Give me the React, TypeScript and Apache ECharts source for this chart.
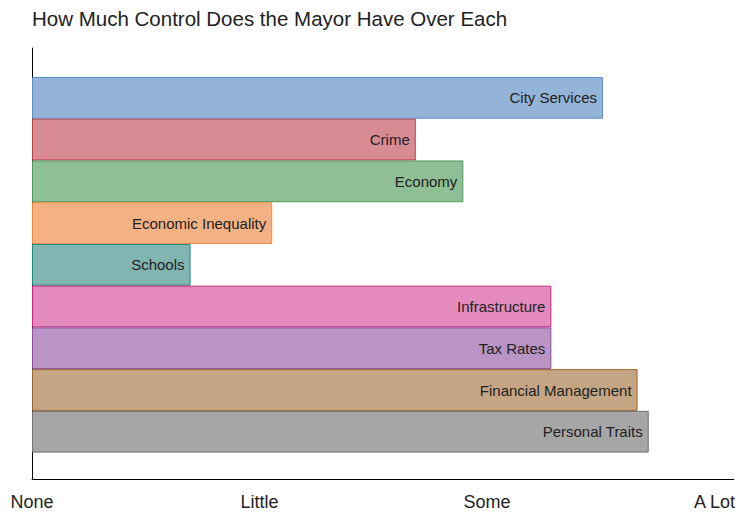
import React, { useEffect, useRef } from "react";
import * as echarts from "echarts";

const categories = [
  "City Services",
  "Crime",
  "Economy",
  "Economic Inequality",
  "Schools",
  "Infrastructure",
  "Tax Rates",
  "Financial Management",
  "Personal Traits",
];
const controlValues = [2.51, 1.687, 1.896, 1.056, 0.697, 2.283, 2.283, 2.662, 2.711];
const tickLabels = ["None", "Little", "Some", "A Lot"];

const fills = ["#93b4d7", "#d98b94", "#8fbf95", "#f4b183", "#80b5b1", "#e48bbe", "#b994c4", "#c4a684", "#a6a6a6"];
const borders = ["#5b8fc7", "#b8404f", "#4f9a5c", "#ec8a42", "#1f8a80", "#c7237f", "#8b4f9e", "#a0632a", "#6f6f6f"];

const FONT = "Arial, 'Liberation Sans', sans-serif";
const XMAX = 3.085;

export default function App() {
  const ref = useRef<HTMLDivElement>(null);
  useEffect(() => {
    if (!ref.current) return;
    const chart = echarts.init(ref.current, undefined, { renderer: "svg" });
    chart.setOption({
      animation: false,
      backgroundColor: "#ffffff",
      title: {
        text: "How Much Control Does the Mayor Have Over Each",
        left: 32,
        top: 8,
        padding: 0,
        textStyle: { fontSize: 20.5, fontWeight: "normal", color: "#222", fontFamily: FONT },
      },
      grid: [
        { left: 32, right: 752 - 733.8, top: 48, bottom: 516 - 479 },
        { left: 32, right: 752 - 733.8, top: 77, bottom: 516 - 452.6 },
      ],
      xAxis: [
        {
          type: "value",
          gridIndex: 0,
          min: 0,
          max: XMAX,
          interval: 1,
          axisLine: { show: true, lineStyle: { color: "#000", width: 1 } },
          axisTick: { show: false },
          splitLine: { show: false },
          axisLabel: {
            margin: 14,
            fontSize: 18,
            color: "#222",
            fontFamily: FONT,
            showMaxLabel: false,
            formatter: (v: number) => {
              const i = Math.round(v);
              return Math.abs(v - i) < 1e-6 && tickLabels[i] !== undefined ? tickLabels[i] : "";
            },
          },
        },
        {
          type: "value",
          gridIndex: 1,
          min: 0,
          max: XMAX,
          show: false,
        },
      ],
      yAxis: [
        {
          type: "value",
          gridIndex: 0,
          min: 0,
          max: 1,
          axisLine: { show: true, lineStyle: { color: "#000", width: 1 } },
          axisTick: { show: false },
          axisLabel: { show: false },
          splitLine: { show: false },
        },
        {
          type: "category",
          gridIndex: 1,
          data: categories,
          inverse: true,
          show: false,
        },
      ],
      series: [
        {
          type: "bar",
          xAxisIndex: 1,
          yAxisIndex: 1,
          barCategoryGap: 0,
          data: controlValues.map((v, i) => ({
            value: v,
            itemStyle: { color: fills[i], borderColor: borders[i], borderWidth: 1 },
          })),
          label: {
            show: true,
            position: "insideRight",
            distance: 6,
            formatter: "{b}",
            fontSize: 15,
            color: "#222",
            fontFamily: FONT,
          },
        },
      ],
    });
    return () => chart.dispose();
  }, []);
  return <div ref={ref} style={{ position: "fixed", left: 0, top: 0, width: 752, height: 516 }} />;
}
